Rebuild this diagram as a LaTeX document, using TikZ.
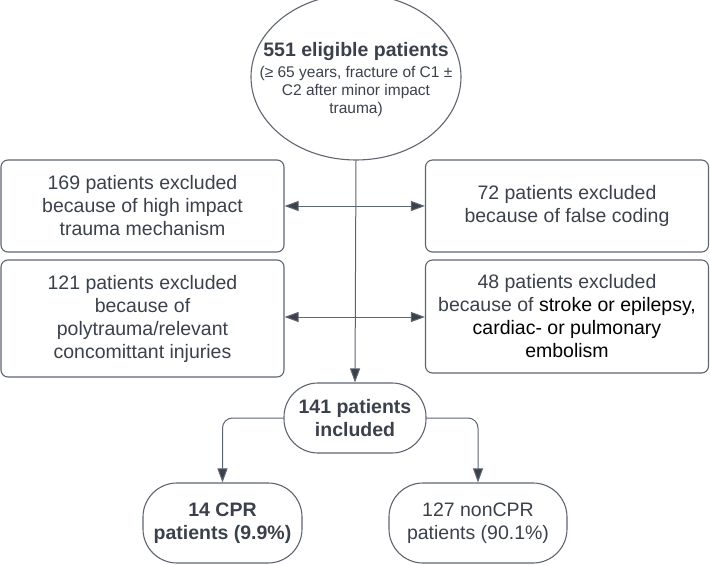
\documentclass[tikz,border=0pt]{standalone}
\usepackage{fontspec}
\setmainfont{Liberation Sans}
\usetikzlibrary{arrows.meta,shapes.geometric}
\definecolor{txt}{HTML}{3A414A}
\definecolor{ln}{HTML}{5E6470}
\begin{document}
\begin{tikzpicture}[x=1pt,y=-1pt,
  boxtext/.style={text=txt, align=center, font=\fontsize{19.5}{23}\selectfont},
  box/.style={boxtext, draw=ln, line width=1.1pt, rounded corners=7pt, inner sep=0pt, minimum width=283pt},
  pill/.style={boxtext, draw=ln, line width=1.1pt, rounded corners=34pt, inner sep=0pt},
  conn/.style={draw=ln, line width=1pt},
  arr/.style={conn, -{Triangle[length=14pt,width=10pt,fill=txt]}},
  elbowarr/.style={arr, rounded corners=10pt}]
\useasboundingbox (0,0) rectangle (710,565);
\clip (0,0) rectangle (710,565);

% top ellipse
\node[ellipse, draw=ln, line width=1.1pt, minimum width=210pt, minimum height=166pt, inner sep=0pt] (top) at (356,77) {};
\node[text=txt, align=center, font=\fontsize{15.5}{18}\selectfont] (toptext) at (356,80)
  {{\fontsize{19.5}{22}\selectfont\bfseries 551 eligible patients}\\[3pt]
   (≥ 65 years, fracture of C1 ±\\ C2 after minor impact\\ trauma)};

% exclusion boxes
\node[box, minimum height=92pt] (l1) at (142.5,206) {169 patients excluded\\ because of high impact\\ trauma mechanism};
\node[box, minimum height=92pt] (r1) at (567,206) {72 patients excluded\\ because of false coding};
\node[box, minimum height=117pt] (l2) at (142.5,318.5) {121 patients excluded\\ because of\\ polytrauma/relevant\\ concomittant injuries};
\node[box, minimum height=113pt] (r2) at (567,316.5) {48 patients excluded\\ because of \textcolor{black}{stroke or epilepsy,}\\ \textcolor{black}{cardiac- or pulmonary}\\ \textcolor{black}{embolism}};

% included
\node[pill, minimum width=142pt, minimum height=70pt, font=\fontsize{19.5}{23}\selectfont\bfseries] (inc) at (355,418) {141 patients\\ included};
\node[pill, minimum width=159pt, minimum height=80pt, font=\fontsize{19.5}{23}\selectfont\bfseries] (cpr) at (222.5,523) {14 CPR\\ patients (9.9\%)};
\node[pill, minimum width=178pt, minimum height=80pt] (ncpr) at (478,523) {127 nonCPR\\ patients (90.1\%)};

% connectors
\coordinate (c1) at (355,206);
\coordinate (c2) at (355,317);
\draw[arr] (top.south) -- (inc.north);
\draw[arr] (c1) -- (l1.east);
\draw[arr] (c1) -- (r1.west);
\draw[arr] (c2) -- (l2.east |- c2);
\draw[arr] (c2) -- (r2.west |- c2);
\draw[elbowarr] (inc.west) -| (cpr.north);
\draw[elbowarr] (inc.east) -| (ncpr.north);
\end{tikzpicture}
\end{document}
